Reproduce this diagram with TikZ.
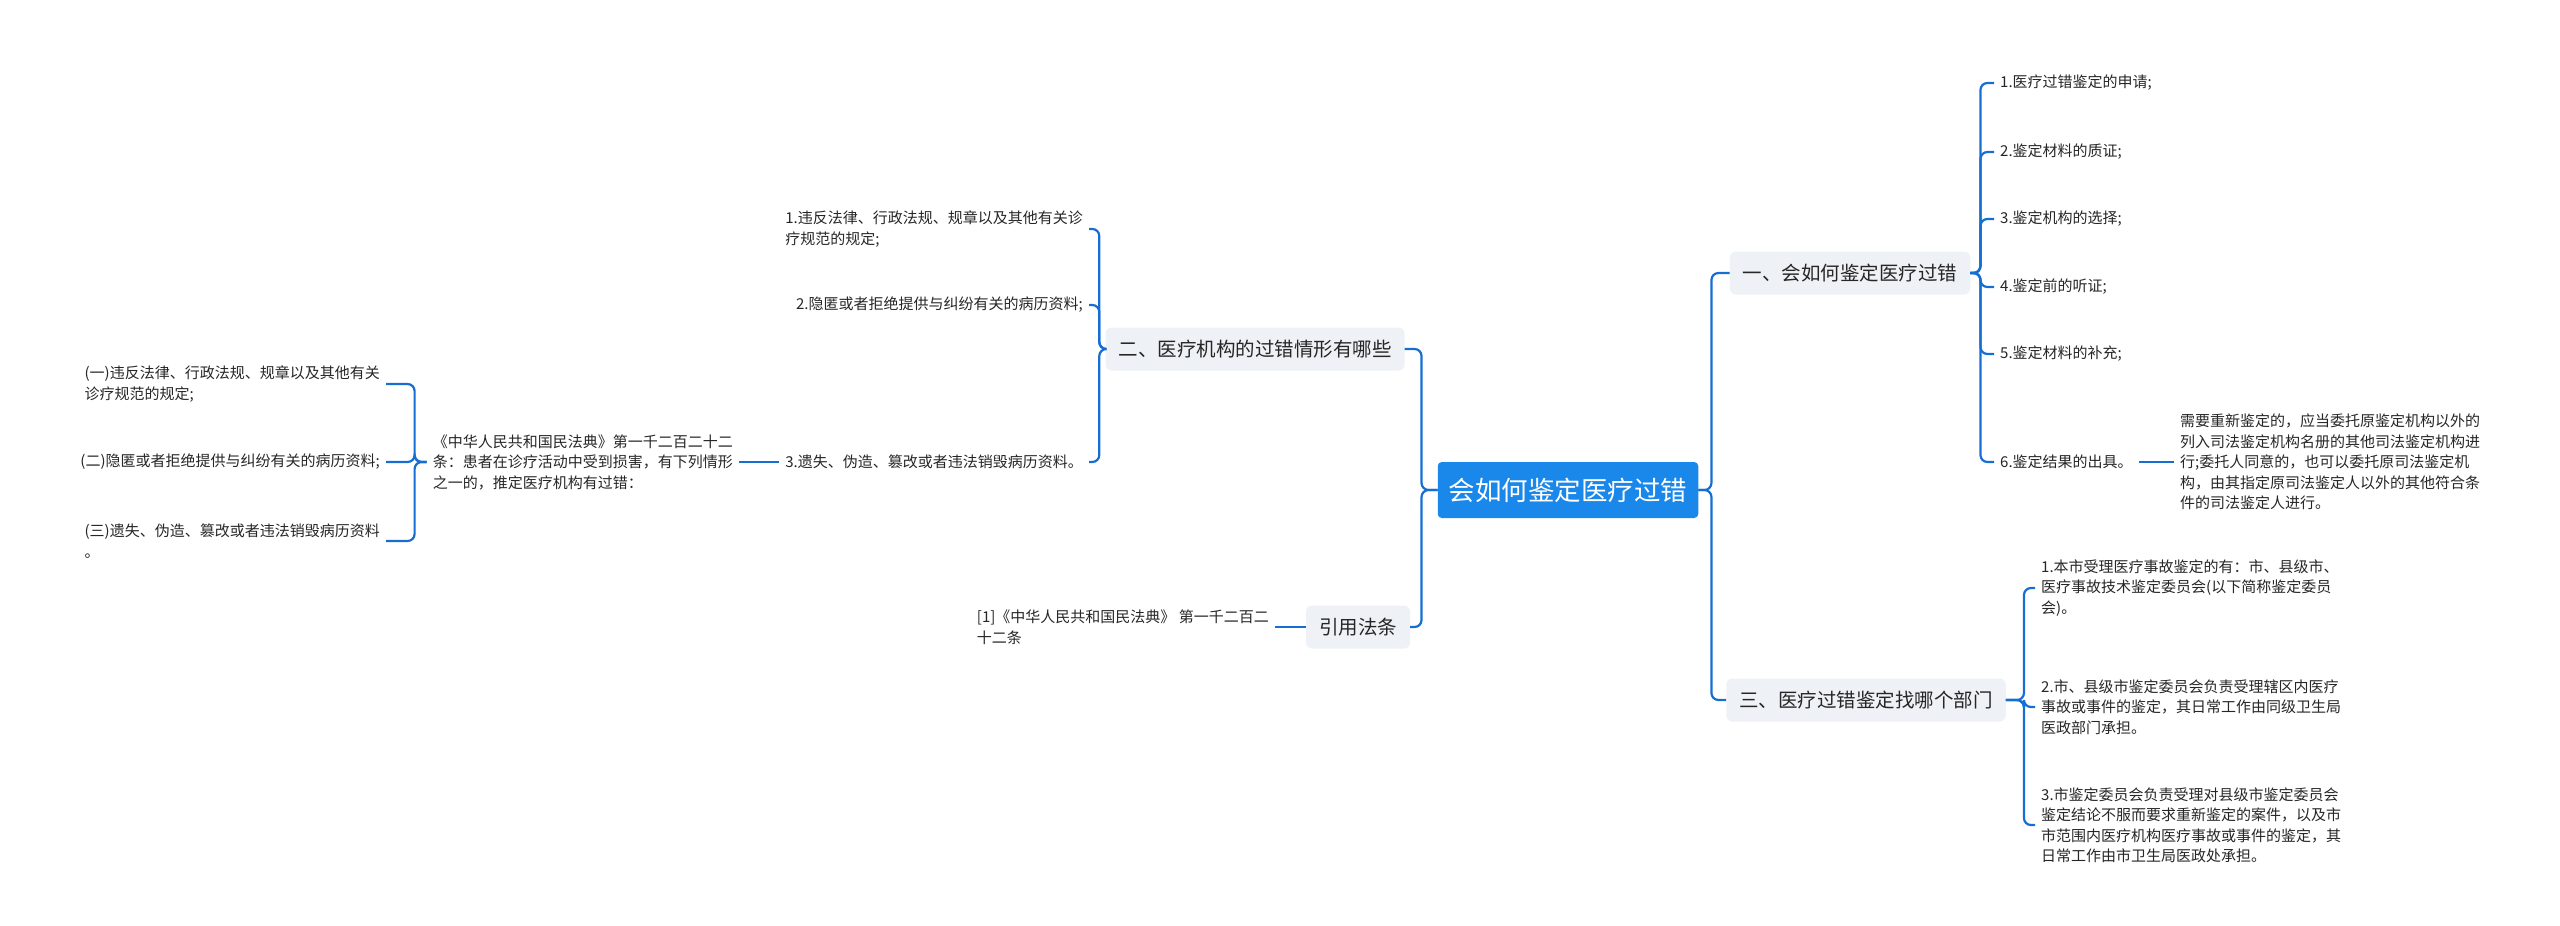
\documentclass[tikz,border=0pt]{standalone}
\usepackage{fontspec}
\setmainfont{Noto Sans CJK SC}
\definecolor{lc}{RGB}{22,110,210}
\definecolor{rootc}{RGB}{26,135,235}
\definecolor{boxc}{RGB}{238,241,245}
\begin{document}
\begin{tikzpicture}[x=1pt,y=-1pt,
  conn/.style={draw=lc,line width=2.2pt,rounded corners=7pt},
  rootbox/.style={fill=rootc,text=white,rounded corners=4pt,font=\fontsize{26.5}{30}\selectfont,inner xsep=11pt,minimum height=56pt},
  lvbox/.style={fill=boxc,text=black!85,rounded corners=6pt,font=\fontsize{19.5}{24}\selectfont,inner xsep=13pt,minimum height=43pt},
  leaf/.style={font=\fontsize{15}{20.5}\selectfont,text=black!85,align=left,inner xsep=6pt,inner ysep=2pt}]
\useasboundingbox (0,0) rectangle (2560,926);
\node[rootbox] (root) at (1568,490) {会如何鉴定医疗过错};
% right
\node[lvbox] (r1) at (1850,273) {一、会如何鉴定医疗过错};
\node[lvbox] (r3) at (1866,700) {三、医疗过错鉴定找哪个部门};
\node[leaf,anchor=west] (a1) at (1994,83) {1.医疗过错鉴定的申请;};
\node[leaf,anchor=west] (a2) at (1994,152) {2.鉴定材料的质证;};
\node[leaf,anchor=west] (a3) at (1994,219) {3.鉴定机构的选择;};
\node[leaf,anchor=west] (a4) at (1994,287) {4.鉴定前的听证;};
\node[leaf,anchor=west] (a5) at (1994,354) {5.鉴定材料的补充;};
\node[leaf,anchor=west] (a6) at (1994,462) {6.鉴定结果的出具。};
\node[leaf,anchor=west] (a6d) at (2174,462) {需要重新鉴定的，应当委托原鉴定机构以外的\\列入司法鉴定机构名册的其他司法鉴定机构进\\行;委托人同意的，也可以委托原司法鉴定机\\构，由其指定原司法鉴定人以外的其他符合条\\件的司法鉴定人进行。};
\node[leaf,anchor=west] (c1) at (2035,588) {1.本市受理医疗事故鉴定的有：市、县级市、\\医疗事故技术鉴定委员会(以下简称鉴定委员\\会)。};
\node[leaf,anchor=west] (c2) at (2035,707) {2.市、县级市鉴定委员会负责受理辖区内医疗\\事故或事件的鉴定，其日常工作由同级卫生局\\医政部门承担。};
\node[leaf,anchor=west] (c3) at (2035,825) {3.市鉴定委员会负责受理对县级市鉴定委员会\\鉴定结论不服而要求重新鉴定的案件，以及市\\市范围内医疗机构医疗事故或事件的鉴定，其\\日常工作由市卫生局医政处承担。};
% left
\node[lvbox] (l2) at (1255,349) {二、医疗机构的过错情形有哪些};
\node[lvbox] (lq) at (1358,627) {引用法条};
\node[leaf,anchor=east] (b1) at (1089,229) {1.违反法律、行政法规、规章以及其他有关诊\\疗规范的规定;};
\node[leaf,anchor=east] (b2) at (1089,305) {2.隐匿或者拒绝提供与纠纷有关的病历资料;};
\node[leaf,anchor=east] (b3) at (1089,462) {3.遗失、伪造、篡改或者违法销毁病历资料。};
\node[leaf,anchor=east] (law) at (739,462) {《中华人民共和国民法典》第一千二百二十二\\条：患者在诊疗活动中受到损害，有下列情形\\之一的，推定医疗机构有过错：};
\node[leaf,anchor=east] (d1) at (386,384) {(一)违反法律、行政法规、规章以及其他有关\\诊疗规范的规定;};
\node[leaf,anchor=east] (d2) at (386,462) {(二)隐匿或者拒绝提供与纠纷有关的病历资料;};
\node[leaf,anchor=east] (d3) at (386,541) {(三)遗失、伪造、篡改或者违法销毁病历资料\\。};
\node[leaf,anchor=east] (q1) at (1275,627) {[1]《中华人民共和国民法典》 第一千二百二\\十二条};
% connectors right
\foreach \t in {r1,r3} \draw[conn] (root.east) -- ++(13,0) |- (\t.west);
\foreach \t in {a1,a2,a3,a4,a5,a6} \draw[conn] (r1.east) -- ++(10,0) |- (\t.west);
\draw[conn] (a6.east) -- (a6d.west);
\foreach \t in {c1,c2,c3} \draw[conn] (r3.east) -- ++(18,0) |- (\t.west);
% connectors left
\foreach \t in {l2,lq} \draw[conn] (root.west) -- ++(-16,0) |- (\t.east);
\foreach \t in {b1,b2,b3} \draw[conn] (l2.west) -- ++(-6,0) |- (\t.east);
\draw[conn] (b3.west) -- (law.east);
\foreach \t in {d1,d2,d3} \draw[conn] (law.west) -- ++(-12,0) |- (\t.east);
\draw[conn] (lq.west) -- (q1.east);
\end{tikzpicture}
\end{document}
